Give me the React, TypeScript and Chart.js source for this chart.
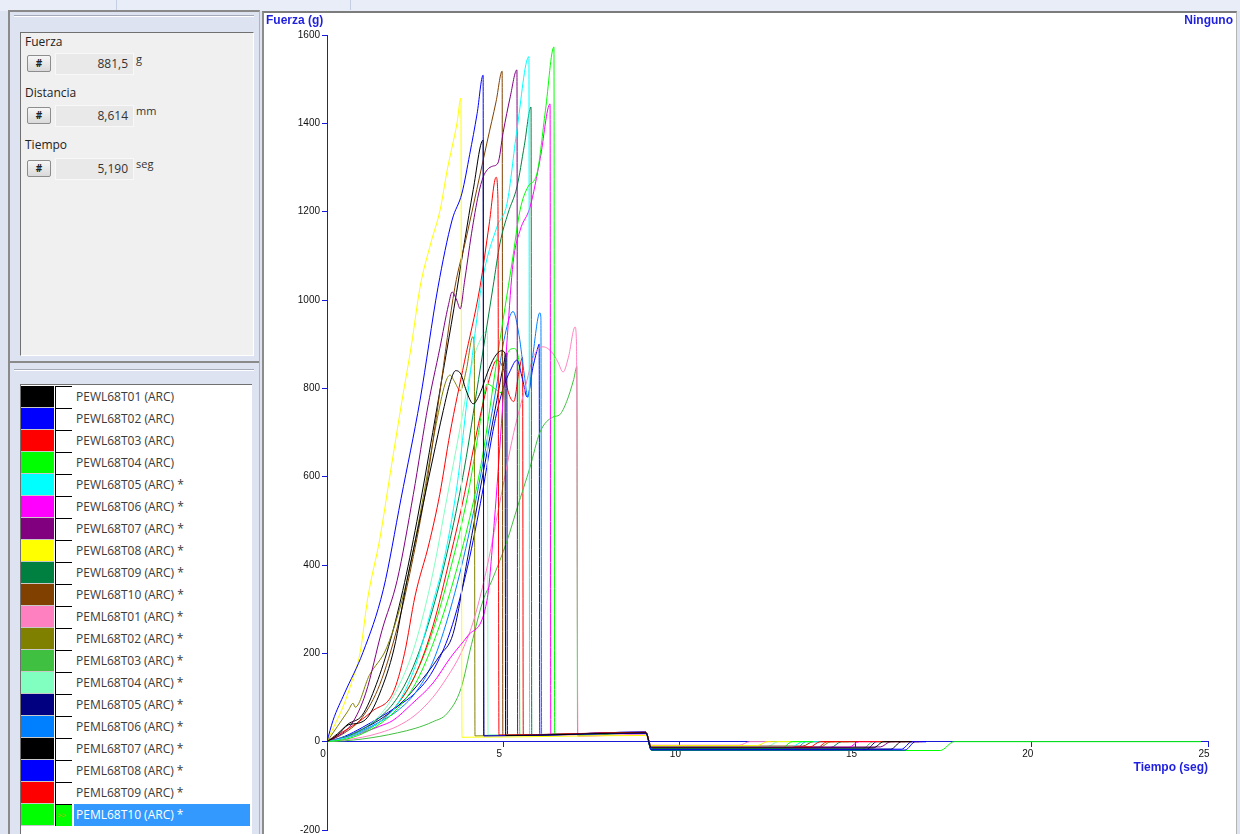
import React, { useEffect, useRef } from "react";
import { Chart, registerables } from "chart.js";

Chart.register(...registerables);

// ---------------- data ----------------
const SERIES_NAMES = [
  "PEWL68T01 (ARC)", "PEWL68T02 (ARC)", "PEWL68T03 (ARC)", "PEWL68T04 (ARC)",
  "PEWL68T05 (ARC) *", "PEWL68T06 (ARC) *", "PEWL68T07 (ARC) *", "PEWL68T08 (ARC) *",
  "PEWL68T09 (ARC) *", "PEWL68T10 (ARC) *", "PEML68T01 (ARC) *", "PEML68T02 (ARC) *",
  "PEML68T03 (ARC) *", "PEML68T04 (ARC) *", "PEML68T05 (ARC) *", "PEML68T06 (ARC) *",
  "PEML68T07 (ARC) *", "PEML68T08 (ARC) *", "PEML68T09 (ARC) *", "PEML68T10 (ARC) *",
];

const SERIES_COLORS = [
  "#000000", "#0000ff", "#ff0000", "#00ff00", "#00ffff", "#ff00ff", "#800080", "#ffff00",
  "#008040", "#804000", "#ff80c0", "#808000", "#40c040", "#80ffc0", "#000080", "#0080ff",
  "#000000", "#0000ff", "#ff0000", "#00ff00",
];

// time (seg) / force (g) per test
const T_PEWL01 = [0, 0.3, 0.6, 0.9, 1.15, 1.5, 1.9, 2.27, 2.6, 3.0, 3.3, 3.5, 3.65, 3.8, 3.95, 4.15, 4.35, 4.55, 4.75, 4.95, 5.05, 5.07, 9.05, 9.2, 15.5, 15.8, 16.6];
const F_PEWL01 = [0, 15, 38, 42, 55, 110, 210, 365, 490, 640, 750, 815, 840, 832, 795, 765, 790, 835, 870, 885, 880, 14, 20, -14, -14, 0, 0];

const T_PEWL02 = [0, 0.17, 0.5, 1.02, 1.6, 2.1, 2.64, 3.15, 3.55, 3.83, 4.05, 4.26, 4.43, 4.45, 9.05, 9.2, 16.3, 16.6, 17.0];
const F_PEWL02 = [0, 48, 110, 202, 345, 550, 773, 1029, 1181, 1242, 1330, 1422, 1509, 13, 19, -17, -17, 0, 0];

const T_PEWL03 = [0, 0.4, 0.85, 1.3, 1.87, 2.2, 2.5, 2.9, 3.2, 3.49, 3.9, 4.34, 4.6, 4.8, 4.85, 4.88, 9.05, 9.2, 13.7, 14.0, 16.9];
const F_PEWL03 = [0, 20, 42, 70, 110, 200, 330, 450, 560, 698, 860, 1029, 1170, 1278, 1230, 15, 21, -12, -12, 0, 0];

const T_PEWL04 = [0, 0.5, 1.0, 1.5, 2.0, 2.5, 3.0, 3.5, 4.0, 4.4, 4.85, 5.25, 5.48, 5.7, 5.96, 6.2, 6.44, 6.46, 9.05, 9.2, 12.9, 13.2, 13.8];
const F_PEWL04 = [0, 5, 18, 40, 75, 130, 220, 340, 490, 640, 880, 1084, 1204, 1256, 1287, 1430, 1573, 16, 21, -15, -15, 0, 0];

const T_PEWL05 = [0, 0.5, 1.0, 1.5, 2.0, 2.5, 3.06, 3.29, 3.69, 4.0, 4.4, 4.82, 5.11, 5.39, 5.73, 5.75, 9.05, 9.2, 13.2, 13.5, 14.0];
const F_PEWL05 = [0, 8, 22, 45, 85, 170, 330, 400, 580, 790, 1040, 1165, 1219, 1385, 1551, 15, 20, -11, -11, 0, 0];

const T_PEWL06 = [0, 0.5, 1.0, 1.5, 1.87, 2.4, 3.01, 3.5, 4.0, 4.54, 4.75, 4.95, 5.12, 5.28, 5.48, 5.76, 6.05, 6.33, 6.35, 9.05, 9.2, 14.8, 15.1, 15.6];
const F_PEWL06 = [0, 8, 20, 35, 48, 85, 133, 190, 240, 320, 500, 720, 920, 1084, 1158, 1210, 1320, 1444, 15, 21, -13, -13, 0, 0];

const T_PEWL07 = [0, 0.3, 0.7, 1.1, 1.56, 1.99, 2.45, 2.87, 3.2, 3.45, 3.55, 3.68, 3.78, 3.9, 4.1, 4.3, 4.43, 4.55, 4.7, 4.85, 5.0, 5.2, 5.39, 5.41, 9.05, 9.2, 15.7, 16.0, 16.4];
const F_PEWL07 = [0, 12, 40, 110, 252, 365, 560, 762, 890, 990, 1018, 1000, 980, 1040, 1150, 1240, 1278, 1295, 1303, 1310, 1380, 1460, 1521, 14, 22, -12, -12, 0, 0];

const T_PEWL08 = [0, 0.2, 0.45, 0.7, 0.94, 1.16, 1.5, 1.8, 2.13, 2.4, 2.64, 2.95, 3.21, 3.41, 3.69, 3.8, 3.83, 9.05, 9.2, 12.2, 12.5, 13.5];
const F_PEWL08 = [0, 35, 78, 135, 202, 327, 460, 610, 773, 900, 1029, 1130, 1204, 1294, 1401, 1457, 10, 14, -9, -9, 0, 0];

const T_PEWL09 = [0, 0.5, 1.0, 1.5, 2.0, 2.5, 3.0, 3.5, 3.9, 4.3, 4.71, 4.91, 5.14, 5.39, 5.6, 5.79, 5.81, 9.05, 9.2, 14.3, 14.6, 15.0];
const F_PEWL09 = [0, 10, 28, 55, 100, 180, 300, 460, 620, 820, 1029, 1129, 1197, 1256, 1350, 1437, 16, 20, -13, -13, 0, 0];

const T_PEWL10 = [0, 0.5, 1.0, 1.5, 2.0, 2.4, 2.8, 3.2, 3.63, 3.95, 4.25, 4.55, 4.8, 4.97, 4.99, 9.05, 9.2, 13.5, 13.8, 14.4];
const F_PEWL10 = [0, 20, 55, 130, 260, 400, 570, 790, 1029, 1140, 1250, 1360, 1450, 1518, 14, 19, -10, -10, 0, 0];

const T_PEML01 = [0, 0.5, 1.0, 1.5, 2.0, 2.5, 3.0, 3.41, 3.8, 4.14, 4.5, 4.9, 5.3, 5.62, 5.85, 6.13, 6.4, 6.55, 6.7, 6.85, 7.04, 7.08, 7.12, 9.05, 9.2, 11.7, 12.0, 12.6];
const F_PEML01 = [0, 4, 10, 20, 35, 60, 100, 146, 200, 269, 380, 540, 700, 800, 870, 894, 880, 860, 837, 870, 939, 900, 12, 17, -8, -8, 0, 0];

const T_PEML02 = [0, 0.3, 0.6, 0.74, 0.8, 1.2, 1.7, 2.27, 2.7, 3.1, 3.35, 3.49, 3.62, 3.78, 3.95, 4.14, 4.18, 4.2, 9.05, 9.2, 14.0, 14.3, 15.0];
const F_PEML02 = [0, 35, 70, 87, 78, 150, 214, 365, 540, 720, 810, 830, 815, 795, 840, 917, 880, 13, 20, -12, -12, 0, 0];

const T_PEML03 = [0, 0.5, 1.0, 1.5, 2.0, 2.5, 3.0, 3.41, 3.8, 4.1, 4.43, 4.68, 5.11, 5.4, 5.76, 6.04, 6.41, 6.6, 6.8, 7.0, 7.09, 7.11, 9.05, 9.2, 15.2, 15.5, 16.0];
const F_PEML03 = [0, 2, 6, 12, 20, 30, 45, 64, 120, 220, 320, 365, 455, 530, 621, 700, 735, 740, 770, 820, 849, 14, 20, -16, -16, 0, 0];

const T_PEML04 = [0, 0.5, 1.0, 1.5, 2.0, 2.5, 3.0, 3.4, 3.8, 4.1, 4.35, 4.55, 4.57, 9.05, 9.2, 12.5, 12.8, 13.3];
const F_PEML04 = [0, 10, 28, 60, 120, 220, 380, 550, 720, 850, 910, 930, 15, 20, -11, -11, 0, 0];

const T_PEML05 = [0, 0.5, 1.0, 1.5, 2.0, 2.27, 2.84, 3.2, 3.58, 4.0, 4.43, 4.82, 5.0, 5.1, 5.12, 9.05, 9.2, 15.3, 15.6, 16.1];
const F_PEML05 = [0, 10, 28, 50, 80, 101, 155, 195, 245, 420, 608, 773, 850, 880, 15, 21, -18, -18, 0, 0];

const T_PEML06 = [0, 0.5, 1.0, 1.5, 2.0, 2.5, 3.0, 3.5, 4.0, 4.4, 4.8, 5.05, 5.28, 5.45, 5.6, 5.7, 5.85, 6.04, 6.07, 6.09, 9.05, 9.2, 13.3, 13.6, 14.1];
const F_PEML06 = [0, 10, 25, 45, 70, 110, 180, 300, 460, 620, 800, 920, 974, 920, 830, 780, 880, 971, 960, 16, 22, -16, -16, 0, 0];

const T_PEML07 = [0, 0.3, 0.6, 1.0, 1.4, 1.8, 2.2, 2.6, 3.0, 3.3, 3.6, 3.9, 4.15, 4.43, 4.45, 9.05, 9.2, 16.0, 16.3, 16.8];
const F_PEML07 = [0, 18, 40, 60, 130, 230, 360, 520, 700, 840, 980, 1130, 1250, 1362, 14, 20, -17, -17, 0, 0];

const T_PEML08 = [0, 0.5, 1.0, 1.5, 2.0, 2.5, 3.0, 3.5, 4.0, 4.4, 4.75, 5.0, 5.2, 5.39, 5.55, 5.68, 5.85, 5.99, 6.02, 6.04, 9.05, 9.2, 16.4, 16.7, 17.0];
const F_PEML08 = [0, 12, 32, 55, 80, 110, 160, 250, 400, 560, 720, 800, 840, 864, 820, 780, 850, 894, 900, 16, 22, -19, -19, 0, 0];

const T_PEML09 = [0, 0.5, 1.0, 1.5, 2.0, 2.5, 3.0, 3.5, 3.9, 4.3, 4.6, 4.82, 5.0, 5.15, 5.3, 5.45, 5.55, 5.57, 9.05, 9.2, 13.9, 14.2, 14.8];
const F_PEML09 = [0, 8, 22, 45, 85, 150, 260, 420, 560, 720, 820, 864, 845, 790, 770, 840, 870, 15, 20, -14, -14, 0, 0];

const T_PEML10 = [0, 0.5, 1.0, 1.5, 2.0, 2.5, 3.0, 3.5, 4.0, 4.3, 4.55, 4.75, 4.95, 5.13, 5.3, 5.45, 5.47, 9.05, 9.2, 17.4, 17.8, 24.8];
const F_PEML10 = [0, 8, 22, 45, 85, 150, 250, 390, 560, 700, 810, 800, 790, 881, 890, 860, 14, 20, -20, -20, 0, 0];

const SERIES_T = [T_PEWL01, T_PEWL02, T_PEWL03, T_PEWL04, T_PEWL05, T_PEWL06, T_PEWL07, T_PEWL08, T_PEWL09, T_PEWL10,
  T_PEML01, T_PEML02, T_PEML03, T_PEML04, T_PEML05, T_PEML06, T_PEML07, T_PEML08, T_PEML09, T_PEML10];
const SERIES_F = [F_PEWL01, F_PEWL02, F_PEWL03, F_PEWL04, F_PEWL05, F_PEWL06, F_PEWL07, F_PEWL08, F_PEWL09, F_PEWL10,
  F_PEML01, F_PEML02, F_PEML03, F_PEML04, F_PEML05, F_PEML06, F_PEML07, F_PEML08, F_PEML09, F_PEML10];

const X_MIN = 0, X_MAX = 25, X_STEP = 5;
const Y_MIN = -200, Y_MAX = 1600, Y_STEP = 200;

const READ_LABELS = ["Fuerza", "Distancia", "Tiempo"];
const READ_VALUES = ["881,5", "8,614", "5,190"];
const READ_UNITS = ["g", "mm", "seg"];
const SELECTED = 19;

// ---------------- styles ----------------
const AXIS = "#1a1ad6";
const TITLE_BLUE = "#1f1fe0";
const LAV = "#dde3f0";

function abs(l: number, t: number, w: number, h: number, extra: any = {}): React.CSSProperties {
  return { position: "absolute", left: l, top: t, width: w, height: h, boxSizing: "border-box", ...extra };
}

export default function App() {
  const ref = useRef<HTMLCanvasElement | null>(null);

  useEffect(() => {
    if (!ref.current) return;
    const datasets = SERIES_T.map((ts, i) => ({
      label: SERIES_NAMES[i],
      data: ts.map((t, j) => ({ x: t, y: SERIES_F[i][j] })),
      borderColor: SERIES_COLORS[i],
      backgroundColor: SERIES_COLORS[i],
      borderWidth: 1,
      pointRadius: 0,
      pointHoverRadius: 0,
      cubicInterpolationMode: "monotone" as const,
      fill: false,
    }));
    const tickFont = { family: "'Liberation Sans', Arial, sans-serif", size: 10 };
    const chart = new Chart(ref.current, {
      type: "line",
      data: { datasets },
      options: {
        responsive: false,
        animation: false,
        events: [],
        layout: { padding: { left: 0, right: 28, top: 21, bottom: 10 } },
        plugins: { legend: { display: false }, tooltip: { enabled: false } },
        scales: {
          x: {
            type: "linear",
            position: { y: 0 } as any,
            min: X_MIN,
            max: X_MAX,
            ticks: {
              stepSize: X_STEP,
              autoSkip: false,
              maxRotation: 0,
              color: "#111",
              font: tickFont,
              padding: 2,
              labelOffset: -4,
              callback: (v: any) => String(v),
            },
            grid: { drawOnChartArea: false, drawTicks: true, tickLength: 5, color: AXIS, lineWidth: 1 },
            border: { display: true, color: AXIS, width: 1 },
          },
          y: {
            type: "linear",
            position: "left",
            min: Y_MIN,
            max: Y_MAX,
            afterFit: (s: any) => { s.width = 63; },
            ticks: {
              stepSize: Y_STEP,
              autoSkip: false,
              color: "#111",
              font: tickFont,
              padding: 2,
              callback: (v: any) => String(v),
            },
            grid: { drawOnChartArea: false, drawTicks: true, tickLength: 5, color: AXIS, lineWidth: 1 },
            border: { display: true, color: AXIS, width: 1 },
          },
        },
      },
    });
    return () => chart.destroy();
  }, []);

  const uiFont = "'Open Sans', 'Noto Sans', sans-serif";
  const boldFont = "'Liberation Sans', Arial, sans-serif";

  return (
    <div style={{ position: "fixed", left: 0, top: 0, width: 1240, height: 834, overflow: "hidden", background: LAV, fontFamily: uiFont }}>
      {/* top strip */}
      <div style={abs(0, 0, 1240, 11, { background: "#e9edf8" })} />
      <div style={abs(116, 0, 1, 10, { background: "#c5cde0" })} />
      <div style={abs(350, 0, 1, 10, { background: "#c5cde0" })} />

      {/* left outer panel */}
      <div style={abs(8, 10, 252, 830, { borderLeft: "2px solid #8a8a8a", borderTop: "2px solid #8a8a8a", borderRight: "1px solid #aeb4c2", background: LAV })} />
      <div style={abs(14, 15, 240, 1, { background: "#a4aab8" })} />
      <div style={abs(14, 16, 240, 1, { background: "#ffffff" })} />

      {/* upper readout box */}
      <div style={abs(20, 32, 234, 324, { background: "#f0f0f0", borderTop: "1px solid #707070", borderLeft: "1px solid #707070", borderRight: "1px solid #ffffff", borderBottom: "1px solid #ffffff" })} />
      {READ_LABELS.map((lab, i) => {
        const top = [34, 85, 137][i];
        const boxTop = [53, 105, 158][i];
        return (
          <React.Fragment key={lab}>
            <div style={abs(25, top, 120, 16, { fontSize: 12, lineHeight: "16px", color: "#222" })}>{lab}</div>
            <div style={abs(27, boxTop + 2, 24, 17, { border: "1px solid #8d8d8d", borderRadius: 2, background: "linear-gradient(#f6f6f6, #dadada)", fontSize: 10, lineHeight: "15px", textAlign: "center", color: "#222", fontWeight: 700 })}>#</div>
            <div style={abs(55, boxTop, 79, 22, { background: "#e9e9e9", border: "1px solid #f8f8f8", fontSize: 12, lineHeight: "20px", textAlign: "right", paddingRight: 5, color: "#333" })}>{READ_VALUES[i]}</div>
            <div style={abs(136, boxTop - 1, 40, 14, { fontSize: 11, lineHeight: "14px", color: "#333" })}>{READ_UNITS[i]}</div>
          </React.Fragment>
        );
      })}

      {/* separator between panels */}
      <div style={abs(10, 361, 249, 2, { background: "#8a8a8a" })} />
      <div style={abs(14, 369, 240, 1, { background: "#a4aab8" })} />
      <div style={abs(14, 370, 240, 1, { background: "#ffffff" })} />

      {/* list box */}
      <div style={abs(20, 384, 232, 460, { background: "#ffffff", borderTop: "1px solid #707070", borderLeft: "1px solid #707070" })} />
      {SERIES_NAMES.map((name, i) => {
        const top = 386 + i * 22;
        const sel = i === SELECTED;
        return (
          <React.Fragment key={i}>
            <div style={abs(21, top, 33, 21, { background: SERIES_COLORS[i] })} />
            <div style={abs(21, top + 21, 33, 1, { background: "#c8c8c8" })} />
            <div style={abs(55, top, 17, 22, { borderLeft: "1px solid #000", borderTop: "1px solid #000", background: sel ? "#00ff00" : "#fff", fontSize: 8, lineHeight: "20px", color: "#b8b800", paddingLeft: 1 })}>{sel ? ">>" : ""}</div>
            <div style={abs(74, top, 176, 22, { background: sel ? "#3399ff" : "transparent", color: sel ? "#fff" : "#3a3a3a", fontSize: 12, lineHeight: "22px", paddingLeft: 2, whiteSpace: "nowrap" })}>{name}</div>
          </React.Fragment>
        );
      })}

      {/* chart panel */}
      <div style={abs(262, 11, 975, 830, { background: "#ffffff", borderTop: "2px solid #7c7c7c", borderLeft: "2px solid #8c8c8c", borderRight: "1px solid #b4b4b4" })} />
      <canvas ref={ref} width={972} height={826} style={{ position: "absolute", left: 264, top: 14, width: 972, height: 826 }} />
      <div style={abs(266, 13, 120, 15, { fontFamily: boldFont, fontWeight: 700, fontSize: 12, lineHeight: "15px", color: TITLE_BLUE })}>Fuerza (g)</div>
      <div style={abs(1100, 13, 133, 15, { fontFamily: boldFont, fontWeight: 700, fontSize: 12, lineHeight: "15px", color: TITLE_BLUE, textAlign: "right" })}>Ninguno</div>
      <div style={abs(1060, 760, 148, 15, { fontFamily: boldFont, fontWeight: 700, fontSize: 12, lineHeight: "15px", color: TITLE_BLUE, textAlign: "right" })}>Tiempo (seg)</div>
    </div>
  );
}
